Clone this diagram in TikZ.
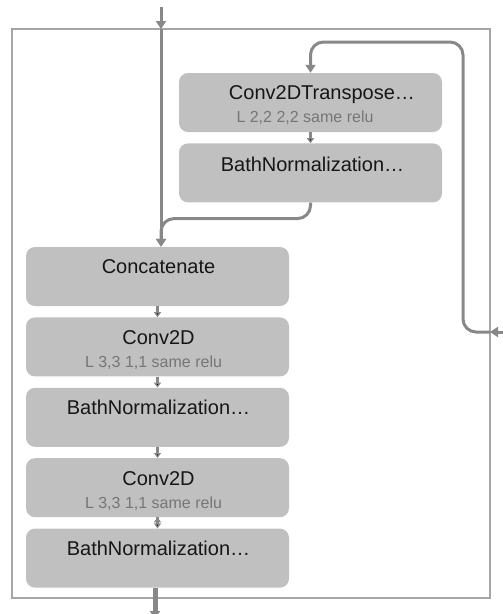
\documentclass[tikz,border=0pt]{standalone}
\usepackage{fontspec}
\setmainfont{Liberation Sans}
\usetikzlibrary{positioning,calc,arrows.meta}
\definecolor{boxgray}{RGB}{192,192,192}
\definecolor{linegray}{RGB}{136,136,136}
\definecolor{framegray}{RGB}{165,165,165}
\definecolor{subgray}{RGB}{118,118,118}
\definecolor{txtblack}{RGB}{22,22,22}

\begin{document}
\begin{tikzpicture}[x=1pt,y=-1pt]
\tikzstyle{layer}=[draw=none,fill=boxgray,rounded corners=9pt,
  minimum width=263pt,minimum height=59pt,inner sep=0pt];
\tikzstyle{ttl}=[anchor=base,inner sep=0pt,text=txtblack,font=\fontsize{20}{24}\selectfont];
\tikzstyle{sub}=[anchor=base,inner sep=0pt,text=subgray,font=\fontsize{16}{19}\selectfont];
\tikzstyle{flow}=[draw=linegray,line width=3pt,rounded corners=13pt,
  -{Triangle[width=10pt,length=8pt]}];
\tikzstyle{stub}=[draw=linegray,line width=2.5pt,-{Triangle[width=7pt,length=5pt]}];

\useasboundingbox (0,0) rectangle (503,614);
\draw[framegray,line width=1.5pt] (12,29) rectangle (490,598);

% upsampling branch
\node[layer] (tconv) at (310.5,102.5) {};
\node[layer,below=11pt of tconv] (tbn) {};
\node[ttl] (tconvT) at ($(tconv.north)+(11.5,27)$) {Conv2DTranspose…};
\node[sub] (tconvS) at ($(tconv.north)+(-5.5,50)$) {L 2,2 2,2 same relu};
\node[ttl] (tbnT) at ($(tbn.north)+(2,28)$) {BathNormalization…};

% decoder stack
\node[layer] (cat) at (157.5,276.5) {};
\node[layer,below=11pt of cat] (convA) {};
\node[layer,below=11pt of convA] (bnA) {};
\node[layer,below=11pt of bnA] (convB) {};
\node[layer,below=11pt of convB] (bnB) {};
\node[ttl] (catT) at ($(cat.north)+(1,27)$) {Concatenate};
\node[ttl] (convAT) at ($(convA.north)+(1,27)$) {Conv2D};
\node[sub] (convAS) at ($(convA.north)+(-4,50)$) {L 3,3 1,1 same relu};
\node[ttl] (bnAT) at ($(bnA.north)+(1,27)$) {BathNormalization…};
\node[ttl] (convBT) at ($(convB.north)+(1,27)$) {Conv2D};
\node[sub] (convBS) at ($(convB.north)+(-4,50)$) {L 3,3 1,1 same relu};
\node[ttl] (bnBT) at ($(bnB.north)+(1,27)$) {BathNormalization…};

% entry, skip and exit points
\coordinate (inS) at (161,7);
\coordinate (inP) at (161,29);
\coordinate (skS) at (503,332);
\coordinate (skP) at (490,332);
\coordinate (skT) at (463,42);
\coordinate (outE) at (155,619);

\draw[flow] (inS) -- (inP);
\draw[flow] (inP) -- (inP |- cat.north);
\draw[flow] (tbn.south) -- ++(0,16) -| (inP |- cat.north);
\draw[flow] (skS) -- (skP);
\draw[flow] (skP) -| (skT) -| (tconv.north);
\draw[flow,line width=5pt] (bnB.south -| outE) -- (outE);

\path[stub]
  (tconv.south) edge (tbn.north)
  (cat.south) edge (convA.north)
  (convA.south) edge (bnA.north)
  (bnA.south) edge (convB.north)
  (convB.south) edge (bnB.north);

\end{tikzpicture}
\end{document}
